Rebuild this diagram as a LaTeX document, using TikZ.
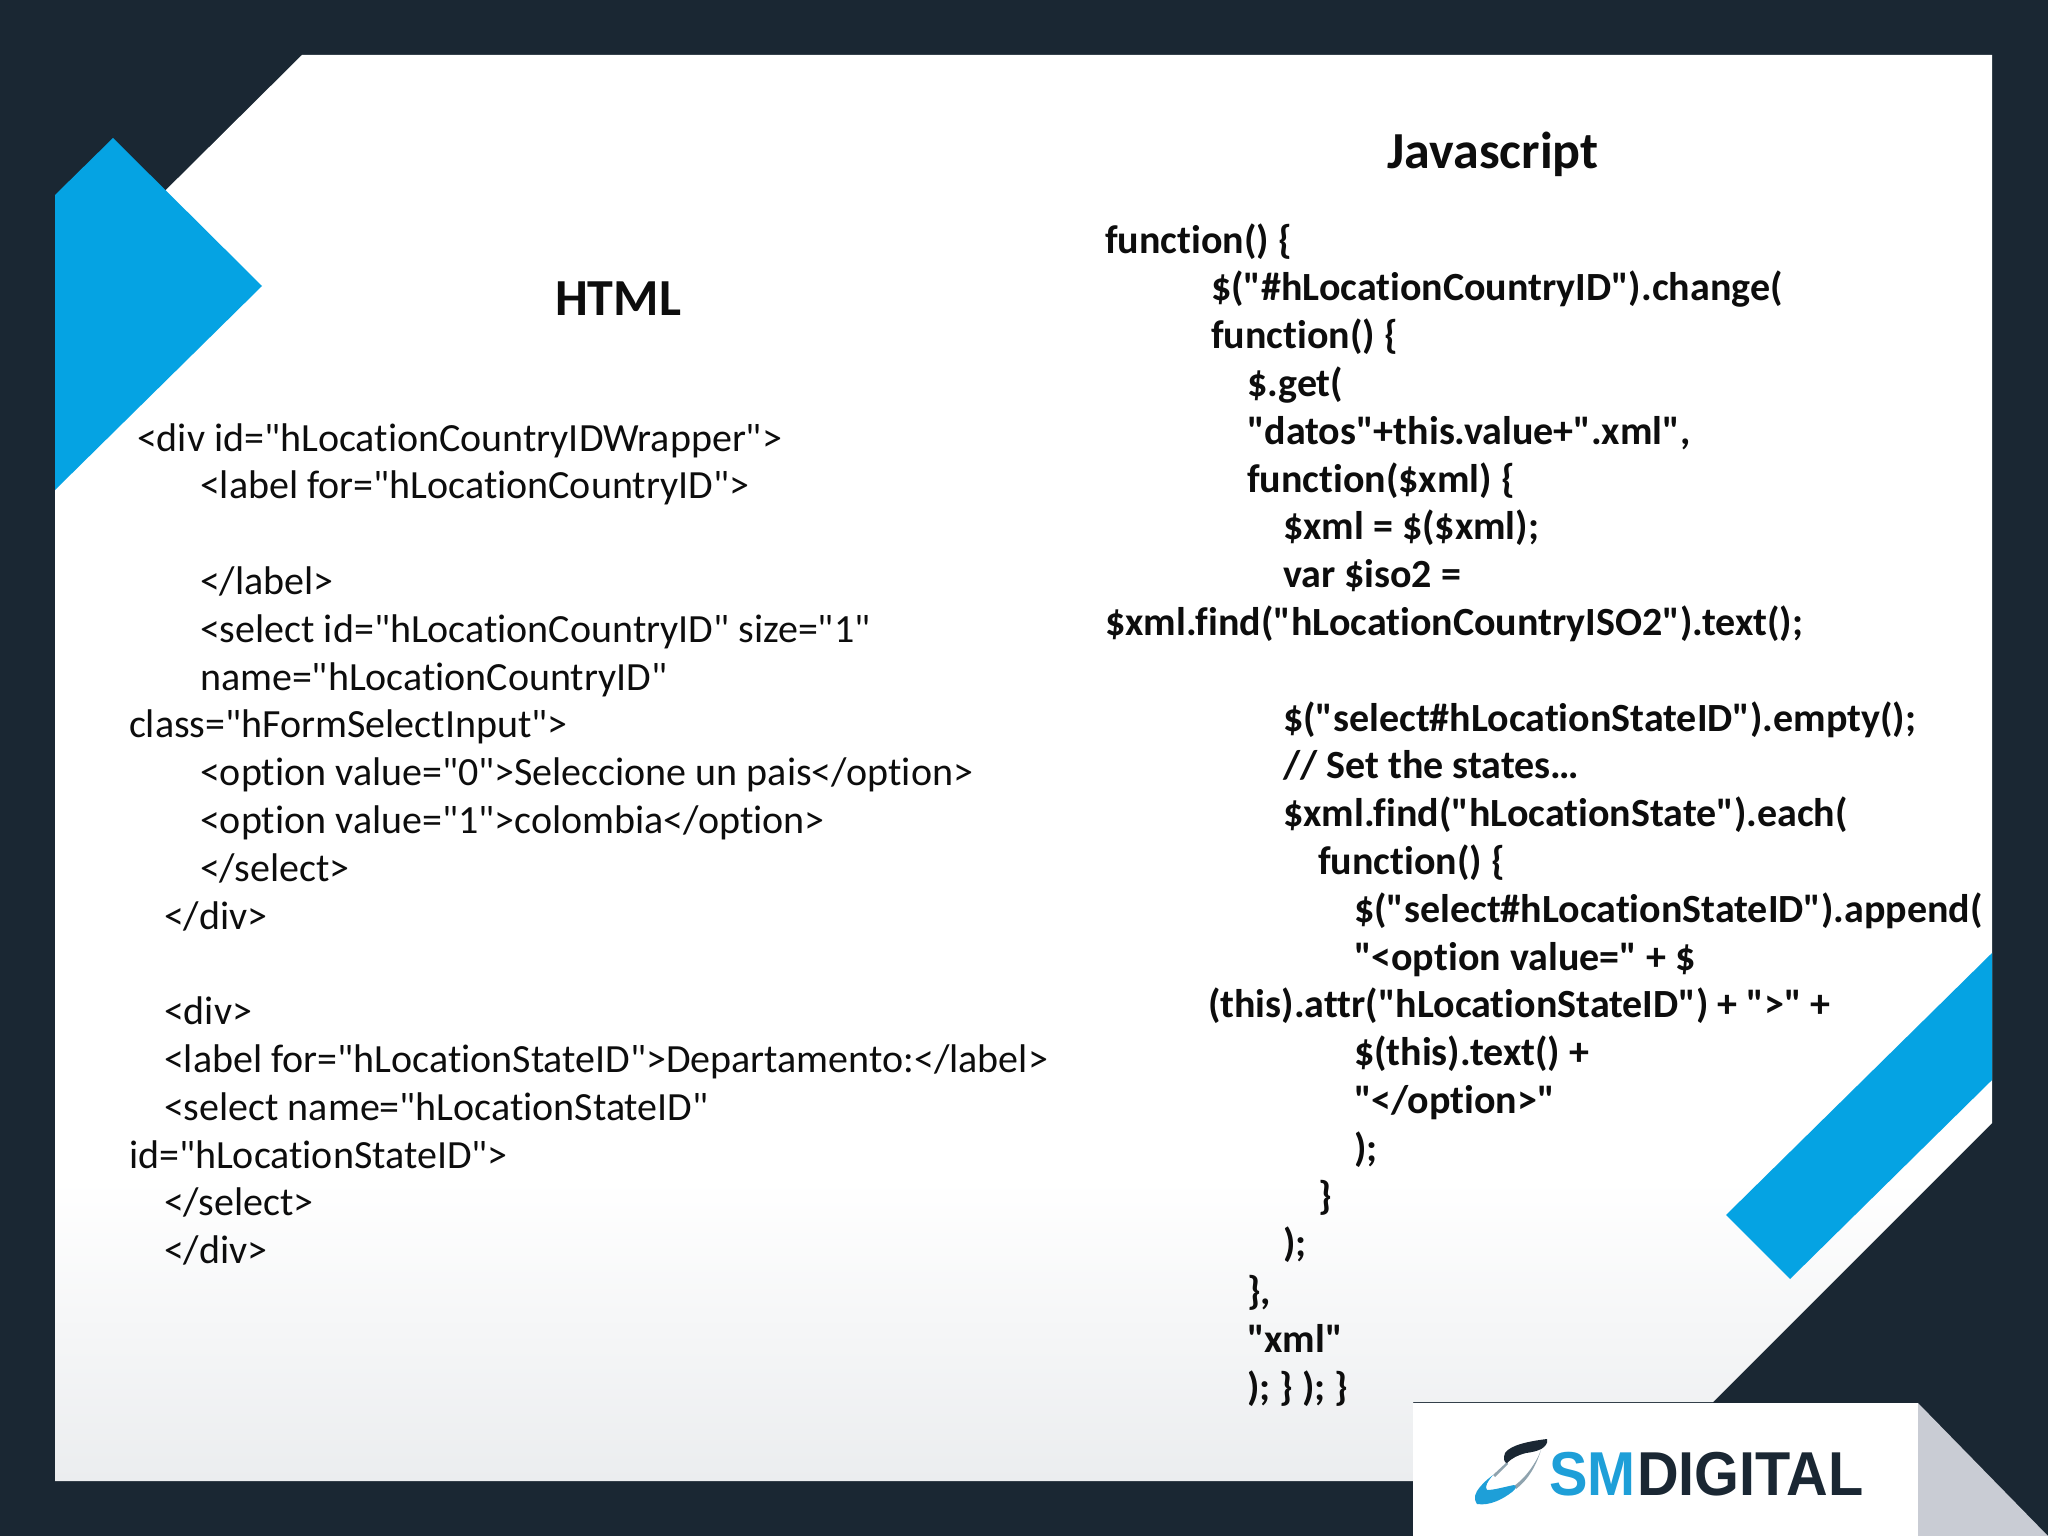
\documentclass[tikz,border=0pt]{standalone}
\usepackage{fontspec}
\newfontfamily\codefont[Ligatures=NoCommon]{Carlito}
\newfontfamily\logofont[FakeStretch=0.93]{Liberation Sans}
\definecolor{navy}{HTML}{1A2733}
\definecolor{skyblue}{HTML}{05A3E3}
\definecolor{paperg}{HTML}{EBEDEF}
\definecolor{foldg}{HTML}{C9CCD4}
\definecolor{logoblue}{HTML}{1E9FD8}
\definecolor{logogrey}{HTML}{8FA3AE}
\definecolor{inkc}{HTML}{0D0D0D}
\newcommand{\hy}[1]{451+47.8*#1}
\newcommand{\jy}[1]{253+47.8*#1}
\tikzset{
  codeline/.style={anchor=base west,inner sep=0pt,outer sep=0pt,text=inkc,font=\fontsize{40}{46}\selectfont\codefont},
  boldline/.style={codeline,font=\fontsize{40}{46}\selectfont\codefont\bfseries},
  titletext/.style={anchor=base,inner sep=0pt,text=inkc,font=\fontsize{52}{60}\selectfont\codefont\bfseries},
  logotext/.style={anchor=base west,inner sep=0pt,font=\fontsize{62}{62}\selectfont\logofont\bfseries}
}
\begin{document}
\begin{tikzpicture}[x=1pt,y=-1pt]
\useasboundingbox (0,0) rectangle (2048,1536);
\fill[navy] (0,0) rectangle (2048,1536);
% sheet
\begin{scope}
\clip (302,55) -- (1992,55) -- (1992,1123) -- (1713,1402) -- (1413,1402) -- (1413,1481) -- (55,1481) -- (55,300) -- cycle;
\fill[white] (0,0) rectangle (2048,1180);
\shade[top color=white,bottom color=paperg] (0,1180) rectangle (2048,1481);
\end{scope}
% accents
\fill[skyblue] (55,195) -- (113,138) -- (262,286) -- (55,490) -- cycle;
\fill[skyblue] (1992,953) -- (1992,1080) -- (1790,1279) -- (1726,1215) -- cycle;
% logo panel
\fill[white] (1413,1403) rectangle (1918,1536);
\fill[foldg] (1918,1403) -- (2048,1536) -- (1918,1536) -- cycle;
% logo swoosh
\fill[logogrey] (1493,1475) -- (1507,1462) -- (1508,1464) -- (1495,1477) -- cycle;
\fill[logogrey] (1514,1486) .. controls (1525,1478) and (1532,1468) .. (1538,1457) -- (1541,1450) .. controls (1536,1466) and (1528,1480) .. (1516,1489) -- cycle;
\fill[navy] (1547,1439) .. controls (1530,1441) and (1510,1445) .. (1505,1453) .. controls (1503,1458) and (1504,1463) .. (1507,1463) .. controls (1512,1458) and (1518,1455) .. (1526,1453) .. controls (1534,1452) and (1541,1450) .. (1544,1447) .. controls (1547,1444) and (1548,1441) .. (1547,1439) -- cycle;
\fill[logoblue] (1477,1504) .. controls (1473,1498) and (1475,1493) .. (1480,1487) .. controls (1484,1482) and (1489,1478) .. (1493,1475) .. controls (1488,1481) and (1484,1487) .. (1487,1490) .. controls (1494,1490) and (1504,1487) .. (1514,1485) .. controls (1517,1486) and (1516,1489) .. (1512,1492) .. controls (1503,1499) and (1490,1506) .. (1477,1504) -- cycle;
\node[logotext,text=logoblue] (logosm) at (1549,1495) {SM};
\node[logotext,text=navy] (logodig) at (1637,1495) {DIGITAL};
% titles
\node[titletext] (htmltitle) at (618,315) {HTML};
\node[titletext] (jstitle) at (1493,168) {Javascript};
% html
\node[codeline] (h0) at (137,{\hy{0}}) {<div id="hLocationCountryIDWrapper">};
\node[codeline] (h1) at (200,{\hy{1}}) {<label for="hLocationCountryID">};
\node[codeline] (h3) at (200,{\hy{3}}) {</label>};
\node[codeline] (h4) at (200,{\hy{4}}) {<select id="hLocationCountryID" size="1"};
\node[codeline] (h5) at (200,{\hy{5}}) {name="hLocationCountryID"};
\node[codeline] (h6) at (129,{\hy{6}}) {class="hFormSelectInput">};
\node[codeline] (h7) at (200,{\hy{7}}) {<option value="0">Seleccione un pais</option>};
\node[codeline] (h8) at (200,{\hy{8}}) {<option value="1">colombia</option>};
\node[codeline] (h9) at (200,{\hy{9}}) {</select>};
\node[codeline] (h10) at (164,{\hy{10}}) {</div>};
\node[codeline] (h12) at (164,{\hy{12}}) {<div>};
\node[codeline] (h13) at (164,{\hy{13}}) {<label for="hLocationStateID">Departamento:</label>};
\node[codeline] (h14) at (164,{\hy{14}}) {<select name="hLocationStateID"};
\node[codeline] (h15) at (129,{\hy{15}}) {id="hLocationStateID">};
\node[codeline] (h16) at (164,{\hy{16}}) {</select>};
\node[codeline] (h17) at (164,{\hy{17}}) {</div>};
% javascript
\node[boldline] (j0) at (1105,{\jy{0}}) {function() \{};
\node[boldline] (j1) at (1211,{\jy{1}}) {\$("\#hLocationCountryID").change(};
\node[boldline] (j2) at (1211,{\jy{2}}) {function() \{};
\node[boldline] (j3) at (1247,{\jy{3}}) {\$.get(};
\node[boldline] (j4) at (1247,{\jy{4}}) {"datos"+this.value+".xml",};
\node[boldline] (j5) at (1247,{\jy{5}}) {function(\$xml) \{};
\node[boldline] (j6) at (1283,{\jy{6}}) {\$xml = \$(\$xml);};
\node[boldline] (j7) at (1283,{\jy{7}}) {var \$iso2 =};
\node[boldline] (j8) at (1105,{\jy{8}}) {\$xml.find("hLocationCountryISO2").text();};
\node[boldline] (j10) at (1283,{\jy{10}}) {\$("select\#hLocationStateID").empty();};
\node[boldline] (j11) at (1283,{\jy{11}}) {// Set the states…};
\node[boldline] (j12) at (1283,{\jy{12}}) {\$xml.find("hLocationState").each(};
\node[boldline] (j13) at (1318,{\jy{13}}) {function() \{};
\node[boldline] (j14) at (1354,{\jy{14}}) {\$("select\#hLocationStateID").append(};
\node[boldline] (j15) at (1354,{\jy{15}}) {"<option value=" + \$};
\node[boldline] (j16) at (1208,{\jy{16}}) {(this).attr("hLocationStateID") + ">" +};
\node[boldline] (j17) at (1354,{\jy{17}}) {\$(this).text() +};
\node[boldline] (j18) at (1354,{\jy{18}}) {"</option>"};
\node[boldline] (j19) at (1354,{\jy{19}}) {);};
\node[boldline] (j20) at (1318,{\jy{20}}) {\}};
\node[boldline] (j21) at (1283,{\jy{21}}) {);};
\node[boldline] (j22) at (1247,{\jy{22}}) {\},};
\node[boldline] (j23) at (1247,{\jy{23}}) {"xml"};
\node[boldline] (j24) at (1247,{\jy{24}}) {); \} ); \}};
\end{tikzpicture}
\end{document}
